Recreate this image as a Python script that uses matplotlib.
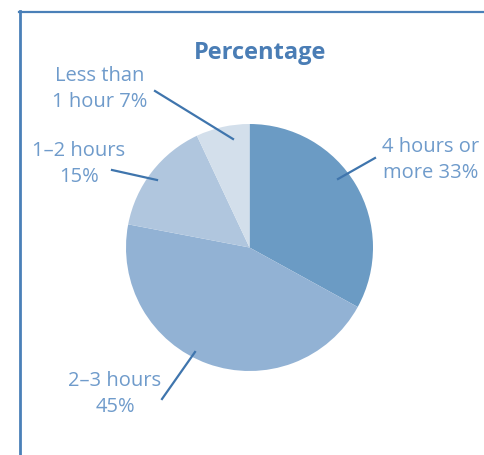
import matplotlib
matplotlib.use("Agg")
import matplotlib.pyplot as plt
from matplotlib.lines import Line2D

categories = ["4 hours or\nmore 33%", "2–3 hours\n45%", "1–2 hours\n15%", "Less than\n1 hour 7%"]
values = [33, 45, 15, 7]
colors = ["#6b9bc4", "#92b2d4", "#b0c6de", "#d3dfeb"]
title = "Percentage"

W, H = 485, 456
fig = plt.figure(figsize=(W / 100, H / 100), dpi=100)
fig.patch.set_facecolor("white")

# pie axes: center (249.5, 248.5) px from top-left, radius 123.5 px
cx, cy, r = 249.5, 248.5, 123.5
ax = fig.add_axes([(cx - r) / W, (H - cy - r) / H, 2 * r / W, 2 * r / H])
ax.pie(values, colors=colors, startangle=90, counterclock=False,
       wedgeprops=dict(linewidth=0))
ax.set_xlim(-1, 1)
ax.set_ylim(-1, 1)
ax.set_aspect("equal")
ax.axis("off")

def px(x, y):
    return x / W, 1 - y / H

frame_color = "#4a80b8"
fig.add_artist(Line2D([px(19.5, 0)[0], px(19.5, 0)[0]], [px(0, 12)[1], 0],
                      color=frame_color, lw=2.0, transform=fig.transFigure))
fig.add_artist(Line2D([px(18.5, 0)[0], 1], [px(0, 12.5)[1], px(0, 12.5)[1]],
                      color=frame_color, lw=1.6, transform=fig.transFigure))

fig.text(*px(260, 53), title, ha="center", va="center", fontsize=17,
         fontweight="bold", color="#4a7db5", family=["Open Sans", "DejaVu Sans"])

label_color = "#6f9bcb"
line_color = "#3f75ad"
label_pos = [(431, 160), (115, 394), (79, 164), (100, 89)]
leaders = [((375, 159), (338, 180)), ((162, 400), (195, 353)),
           ((112, 171), (157, 181)), ((155, 92), (233, 140))]
for lab, (lx, ly), ((x0, y0), (x1, y1)) in zip(categories, label_pos, leaders):
    fig.text(*px(lx, ly), lab, ha="center", va="center", fontsize=14.5,
             color=label_color, linespacing=1.4, family=["Open Sans", "DejaVu Sans"])
    fig.add_artist(Line2D([px(x0, 0)[0], px(x1, 0)[0]], [px(0, y0)[1], px(0, y1)[1]],
                          color=line_color, lw=1.6, transform=fig.transFigure))

fig.savefig("out.png", dpi=100, facecolor="white")
